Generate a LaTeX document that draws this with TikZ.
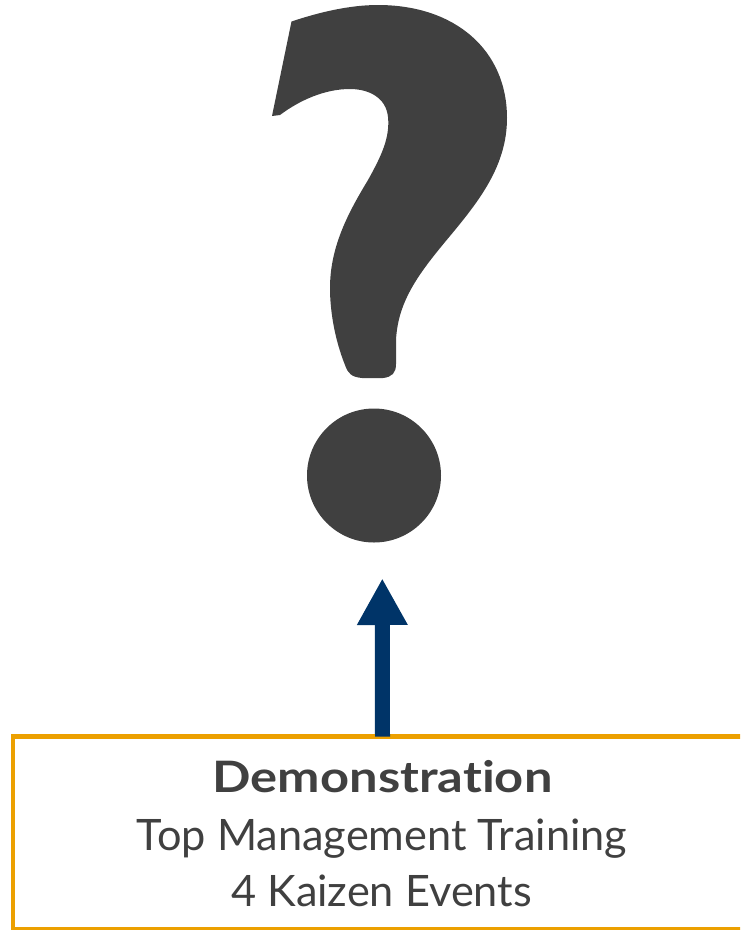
\documentclass[tikz,border=0pt]{standalone}
\usepackage{fontspec}
\setmainfont{Lato}[Ligatures={NoCommon}]
\usetikzlibrary{arrows.meta}
\definecolor{qgray}{HTML}{404040}
\definecolor{boxorange}{RGB}{236,160,0}
\definecolor{navyblue}{RGB}{0,52,104}
\begin{document}
\begin{tikzpicture}[x=1pt,y=-1pt,
  linetxt/.style={text=qgray, inner sep=0pt, anchor=base, font=\fontsize{43.3}{52}\selectfont},
  titletxt/.style={linetxt, font=\fontsize{43.3}{52}\selectfont\bfseries},
  boxline/.style={draw=boxorange, line width=4.5pt},
  uparrow/.style={draw=navyblue, line width=15pt, -{Triangle[length=46.7pt,width=47.4pt]}}]
\useasboundingbox (0,0) rectangle (740,930);
\clip (0,0) rectangle (740,930);
% question mark hook
\fill[qgray] (291.5,21.5)
  .. controls (320,12) and (350,5) .. (378,5)
  .. controls (455,5) and (507,50) .. (507,118)
  .. controls (507,165) and (480,200) .. (450,236)
  .. controls (420,272) and (398,300) .. (396,340)
  -- (396,364)
  .. controls (396,373) and (392,377) .. (383,378)
  -- (362,378)
  .. controls (352,377) and (348,374) .. (345,365)
  .. controls (335,340) and (330,312) .. (330,288)
  .. controls (330,245) and (350,210) .. (368,180)
  .. controls (382,155) and (390,137) .. (388,117)
  .. controls (386,97) and (368,89) .. (350,89)
  .. controls (325,89) and (300,100) .. (280,115)
  -- (272,116) -- cycle;
\node[circle, fill=qgray, minimum size=134pt, inner sep=0pt] (qdot) at (374,475.5) {};
% box
\draw[boxline] (760,736.5) -- (13,736.5) -- (13,929) -- (760,929);
\coordinate (boxtop) at (382.5,736.5);
\coordinate (qtip) at (382.3,578.3);
\draw[uparrow] (boxtop) -- (qtip);
% texts
\node[titletxt] (demotitle) at (382.5,792.7) {\scalebox{1.17}[1]{Demonstration}};
\node[linetxt] (demoline1) at (382,850) {Top Management Training};
\node[linetxt] (demoline2) at (381.6,906.7) {4 Kaizen Events};
\end{tikzpicture}
\end{document}
